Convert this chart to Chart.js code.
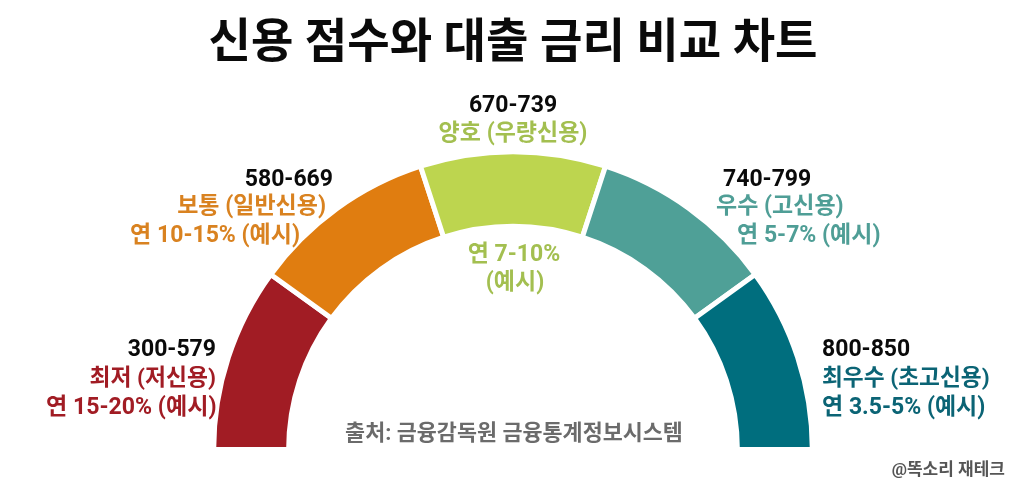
<!DOCTYPE html>
<html lang="ko">
<head>
<meta charset="utf-8">
<style>
html,body{margin:0;padding:0;background:#fff;}
#wrap{position:relative;width:1024px;height:481px;overflow:hidden;}
canvas{display:block;}
</style>
<script src="https://cdn.jsdelivr.net/npm/chart.js@4"></script>
</head>
<body>
<div id="wrap"><canvas id="c" width="1024" height="481"></canvas></div>
<script>
const titleText = '신용 점수와 대출 금리 비교 차트';
const categories = ['최저 (저신용)', '보통 (일반신용)', '양호 (우량신용)', '우수 (고신용)', '최우수 (초고신용)'];
const scoreRanges = ['300-579', '580-669', '670-739', '740-799', '800-850'];
const rateLabels = ['연 15-20% (예시)', '연 10-15% (예시)', '연 7-10%', '연 5-7% (예시)', '연 3.5-5% (예시)'];
const segmentValues = [1, 1, 1, 1, 1];
const sourceText = '출처: 금융감독원 금융통계정보시스템';
const creditText = '@똑소리 재테크';

const segmentColors = ['#A11C24', '#E07D10', '#BDD54F', '#4FA097', '#006E7E'];
const labelColors = ['#A11C24', '#D98220', '#A3BF50', '#4F9E96', '#0B6475'];
const FONT = 'Roboto, "Noto Sans CJK KR", sans-serif';

function text(ctx, str, x, y, align, color, size, weight) {
  ctx.font = (weight || 700) + ' ' + size + 'px ' + FONT;
  ctx.fillStyle = color;
  ctx.textAlign = align;
  ctx.textBaseline = 'middle';
  ctx.fillText(str, x, y);
}

const labelPlugin = {
  id: 'gaugeLabels',
  afterDraw(chart) {
    const ctx = chart.ctx;
    ctx.save();
    const black = '#0a0a0a';
    text(ctx, scoreRanges[0], 216, 350, 'right', black, 23);
    text(ctx, categories[0], 216, 379, 'right', labelColors[0], 22.8);
    text(ctx, rateLabels[0], 216.5, 408, 'right', labelColors[0], 23.1);

    text(ctx, scoreRanges[1], 333, 180, 'right', black, 23);
    text(ctx, categories[1], 326, 207, 'right', labelColors[1], 23);
    text(ctx, rateLabels[1], 300, 236, 'right', labelColors[1], 23);

    text(ctx, scoreRanges[2], 513, 106, 'center', black, 23);
    text(ctx, categories[2], 513, 134, 'center', labelColors[2], 23);
    text(ctx, rateLabels[2], 514, 255, 'center', labelColors[2], 23);
    text(ctx, '(예시)', 515, 283, 'center', labelColors[2], 23);

    text(ctx, scoreRanges[3], 723, 180, 'left', black, 23);
    text(ctx, categories[3], 716, 207, 'left', labelColors[3], 23);
    text(ctx, rateLabels[3], 737, 236, 'left', labelColors[3], 23);

    text(ctx, scoreRanges[4], 822, 350, 'left', black, 23);
    text(ctx, categories[4], 822, 379, 'left', labelColors[4], 22.7);
    text(ctx, rateLabels[4], 822, 408, 'left', labelColors[4], 23);

    text(ctx, sourceText, 514, 435, 'center', '#6b6b6b', 21.8);
    text(ctx, creditText, 1005, 470.5, 'right', '#555555', 17);
    ctx.restore();
  }
};

/* the reference arch is very slightly flatter than a circle */
const flattenPlugin = {
  id: 'flatten',
  beforeDatasetsDraw(chart) {
    const ctx = chart.ctx, cy = chart.getDatasetMeta(0).data[0].y;
    ctx.save();
    ctx.translate(0, cy);
    ctx.scale(1, 0.995);
    ctx.translate(0, -cy);
  },
  afterDatasetsDraw(chart) { chart.ctx.restore(); }
};

new Chart(document.getElementById('c'), {
  type: 'doughnut',
  data: {
    labels: categories,
    datasets: [{ data: segmentValues, backgroundColor: segmentColors, borderColor: '#ffffff', borderWidth: 5 }]
  },
  options: {
    responsive: false,
    animation: false,
    rotation: -90,
    circumference: 180,
    cutout: '74.96%',
    layout: { padding: { left: 208.5, right: 206.5, top: 0, bottom: 29 } },
    plugins: {
      legend: { display: false },
      tooltip: { enabled: false },
      title: {
        display: true,
        text: titleText,
        color: '#0a0a0a',
        font: { family: FONT, size: 46.4, weight: '700', lineHeight: 1.2 },
        padding: { top: 18, bottom: 74 }
      }
    }
  },
  plugins: [flattenPlugin, labelPlugin]
});
</script>
</body>
</html>
